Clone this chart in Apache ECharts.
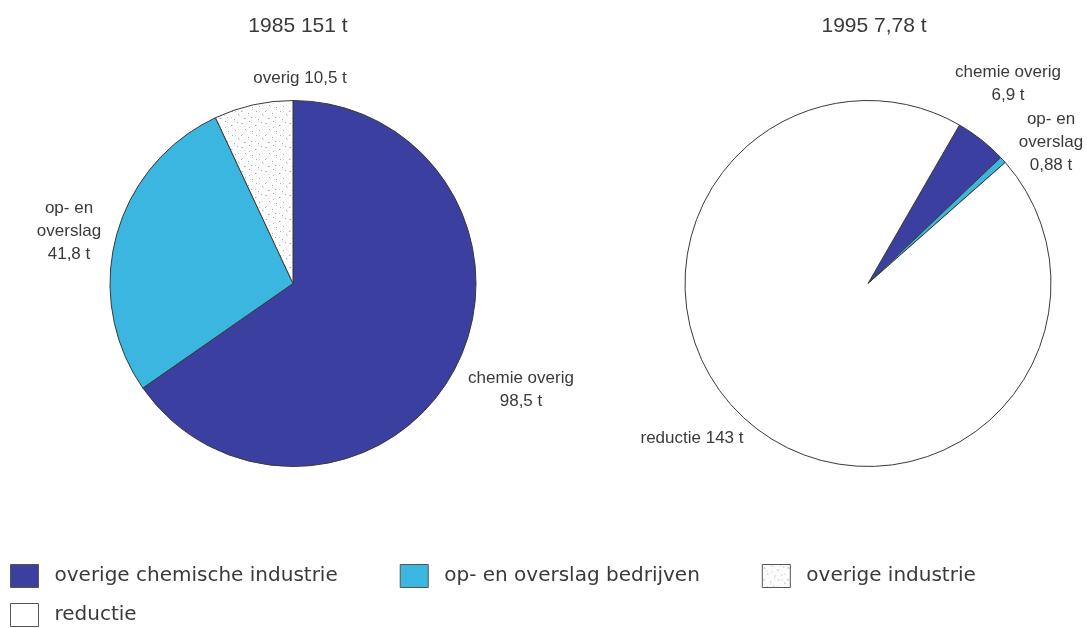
<!DOCTYPE html>
<html>
<head>
<meta charset="utf-8">
<script src="https://cdn.jsdelivr.net/npm/echarts@6/dist/echarts.min.js"></script>
<style>
  html, body { margin: 0; padding: 0; background: #fff; }
  #chart { width: 1087px; height: 628px; }
</style>
</head>
<body>
<div id="chart"></div>
<script>
// Legend categories (shared by both pies)
const legendNames = ['overige chemische industrie', 'op- en overslag bedrijven', 'overige industrie', 'reductie'];

// 1985 emissions (tonnes)
const names1985 = ['overige chemische industrie', 'op- en overslag bedrijven', 'overige industrie'];
const labels1985 = ['chemie overig\n', 'op- en\noverslag\n', 'overig '];
const values1985 = [98.5, 41.8, 10.5];

// 1995 emissions (tonnes)
const names1995 = ['overige chemische industrie', 'op- en overslag bedrijven', 'reductie'];
const labels1995 = ['chemie overig\n', 'op- en\noverslag\n', 'reductie '];
const values1995 = [6.9, 0.88, 143];

const titles = ['1985 151 t', '1995 7,78 t'];

// speckled fill for "overige industrie"
function speckle() {
  const c = document.createElement('canvas');
  c.width = 24; c.height = 24;
  const g = c.getContext('2d');
  g.fillStyle = '#fcfcfc';
  g.fillRect(0, 0, 24, 24);
  const dots = [[2,3],[9,1],[15,5],[21,2],[5,9],[12,11],[19,10],[1,15],[8,17],[16,15],[22,18],[4,22],[11,21],[18,23]];
  g.fillStyle = '#a8a8a8';
  dots.forEach(([x, y]) => g.fillRect(x, y, 1, 1));
  g.fillStyle = '#d4d4d4';
  dots.forEach(([x, y]) => g.fillRect((x + 7) % 24, (y + 4) % 24, 1, 1));
  return { image: c, repeat: 'repeat' };
}

const colors = {
  'overige chemische industrie': '#3b3f9f',
  'op- en overslag bedrijven': '#3bb6e0',
  'overige industrie': speckle(),
  'reductie': '#ffffff'
};

const fmt = v => String(v).replace('.', ',');

function pieData(names, values, labels) {
  return names.map((n, i) => ({
    name: n,
    value: values[i],
    labelText: labels[i],
    itemStyle: { color: colors[n] }
  }));
}

// label anchor points (centre of each text block)
const labelPos = [
  [[521, 390], [69, 231], [300, 78]],
  [[1008, 84], [1051, 142], [692, 438]]
];

const textColor = '#3a3a3a';
const fontFam = '"Liberation Sans", Arial, Helvetica, sans-serif';
const legendFont = '"DejaVu Sans", Verdana, sans-serif';

function pieSeries(idx, cx, data, startAngle) {
  return {
    type: 'pie',
    center: [cx, 283.5],
    radius: 183,
    startAngle: startAngle,
    clockwise: true,
    avoidLabelOverlap: false,
    animation: false,
    silent: true,
    data: data,
    itemStyle: { borderColor: '#3a3a3a', borderWidth: 1 },
    label: {
      show: true,
      position: 'outside',
      formatter: p => p.data.labelText + fmt(p.value) + ' t',
      color: textColor,
      fontFamily: fontFam,
      fontSize: 17,
      lineHeight: 23,
      align: 'center'
    },
    labelLine: { show: false },
    labelLayout: p => ({
      x: labelPos[idx][p.dataIndex][0],
      y: labelPos[idx][p.dataIndex][1],
      align: 'center',
      verticalAlign: 'middle'
    }),
    emphasis: { disabled: true }
  };
}

const legendCommon = {
  left: 10,
  orient: 'horizontal',
  padding: 0,
  icon: 'rect',
  itemWidth: 28,
  itemHeight: 23,
  selectedMode: false,
  itemStyle: { borderColor: '#555', borderWidth: 1 },
  textStyle: {
    color: textColor,
    fontFamily: legendFont,
    fontSize: 20,
    padding: [0, 0, 0, 11]
  }
};

const chart = echarts.init(document.getElementById('chart'), null, { renderer: 'canvas' });
chart.setOption({
  backgroundColor: '#ffffff',
  animation: false,
  title: [
    { text: titles[0], left: 293, top: 11, textAlign: 'center',
      textStyle: { fontFamily: fontFam, fontSize: 21, fontWeight: 'normal', color: textColor } },
    { text: titles[1], left: 869, top: 11, textAlign: 'center',
      textStyle: { fontFamily: fontFam, fontSize: 21, fontWeight: 'normal', color: textColor } }
  ],
  legend: [
    Object.assign({}, legendCommon, { top: 564, itemGap: 62, data: legendNames.slice(0, 3) }),
    Object.assign({}, legendCommon, { top: 603, data: legendNames.slice(3) })
  ],
  series: [
    pieSeries(0, 293, pieData(names1985, values1985, labels1985), 90),
    pieSeries(1, 868, pieData(names1995, values1995, labels1995), 60)
  ]
});
</script>
</body>
</html>
